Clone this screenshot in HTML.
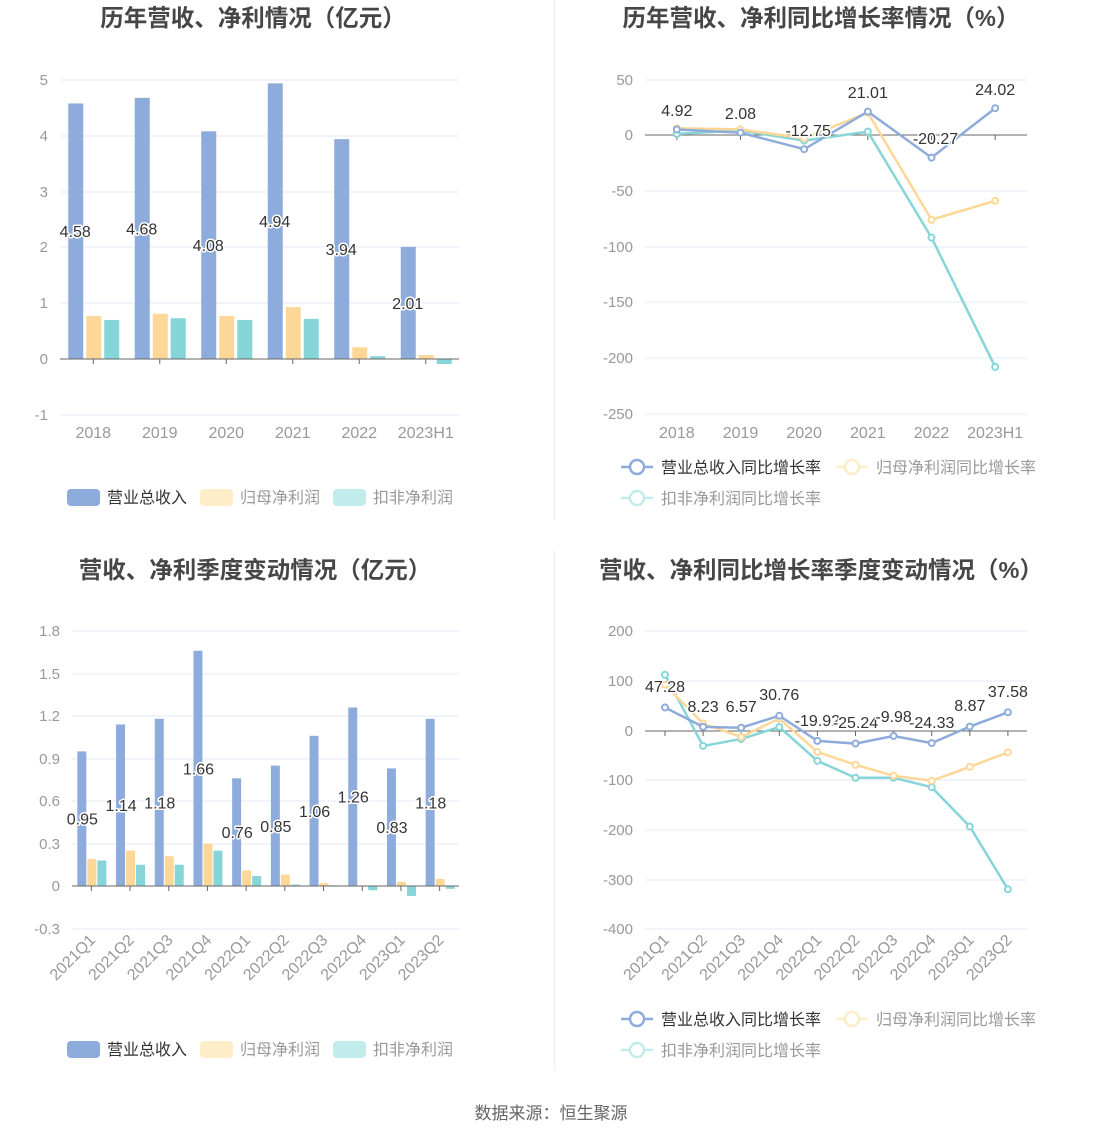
<!DOCTYPE html>
<html><head><meta charset="utf-8">
<style>
html,body{margin:0;padding:0;background:#fff;width:1102px;height:1140px;overflow:hidden}
svg{display:block;font-family:"Liberation Sans","Noto Sans CJK SC",sans-serif}
</style></head>
<body>
<svg id="s" width="1102" height="1140" xmlns="http://www.w3.org/2000/svg"></svg>
<script>
var o='';
var B='#8eacdb',Y='#fdd797',C='#86d5d8',YL='#ffecc8',CL='#c2ecec';
function t(x,y,s,a,c,sz,extra){o+='<text x="'+x+'" y="'+y+'" text-anchor="'+(a||'middle')+'" fill="'+(c||'#999')+'" font-size="'+(sz||15)+'" '+(extra||'')+'>'+s+'</text>';}
function lbl(x,y,s,sz){o+='<text x="'+x+'" y="'+y+'" text-anchor="middle" font-size="'+(sz||15)+'" fill="#333" stroke="#fff" stroke-width="3" paint-order="stroke" stroke-linejoin="round">'+s+'</text>';}
function grid(x0,x1,ticks){ticks.forEach(function(k){o+='<line x1="'+x0+'" x2="'+x1+'" y1="'+k[0]+'" y2="'+k[0]+'" stroke="#e3e8f5" stroke-width="1"/>';t(x0-12,k[0]+5,k[1],'end');});}
o+='<line x1="554.5" x2="554.5" y1="0" y2="520" stroke="#eee"/><line x1="554.5" x2="554.5" y1="550" y2="1070" stroke="#eee"/>';
t(253,26,'历年营收、净利情况（亿元）','middle','#464646',23.5,'font-weight="bold"');
t(821,26,'历年营收、净利同比增长率情况（%）','middle','#464646',23.5,'font-weight="bold"');
t(255,578,'营收、净利季度变动情况（亿元）','middle','#464646',23.5,'font-weight="bold"');
t(821,578,'营收、净利同比增长率季度变动情况（%）','middle','#464646',23.5,'font-weight="bold"');
t(551,1119,'数据来源：恒生聚源','middle','#666',17);

(function(){var y0=359,u=55.8,x0=60,x1=459;
grid(x0,x1,[[80,'5'],[136,'4'],[192,'3'],[247,'2'],[303,'1'],[359,'0'],[415,'-1']]);
var cats=['2018','2019','2020','2021','2022','2023H1'],r=[4.58,4.68,4.08,4.94,3.94,2.01],n=[0.77,0.81,0.77,0.93,0.21,0.07],d=[0.70,0.73,0.70,0.72,0.05,-0.09];
var w=(x1-x0)/6;
for(var i=0;i<6;i++){var c=x0+w*(i+.5);
[[r,B,-25],[n,Y,-7],[d,C,11]].forEach(function(q){var v=q[0][i],h=v*u;o+='<rect x="'+(c+q[2])+'" y="'+(h>0?y0-h:y0)+'" width="15" height="'+Math.abs(h)+'" fill="'+q[1]+'"/>';});
o+='<line x1="'+c+'" x2="'+c+'" y1="'+y0+'" y2="'+(y0+5)+'" stroke="#666"/>';
t(c,438,cats[i],'middle','#999',16);}
o+='<line x1="'+x0+'" x2="'+x1+'" y1="'+y0+'" y2="'+y0+'" stroke="#666"/>';
for(i=0;i<6;i++){c=x0+w*(i+.5);lbl(c-18,y0-r[i]*u/2+6,r[i],16);}
})();
(function(){var y0=886,u=141.7,x0=72,x1=459;
grid(x0,x1,[[631,'1.8'],[674,'1.5'],[716,'1.2'],[759,'0.9'],[801,'0.6'],[844,'0.3'],[886,'0'],[929,'-0.3']]);
var cats=['2021Q1','2021Q2','2021Q3','2021Q4','2022Q1','2022Q2','2022Q3','2022Q4','2023Q1','2023Q2'];
var r=[0.95,1.14,1.18,1.66,0.76,0.85,1.06,1.26,0.83,1.18],n=[0.19,0.25,0.21,0.30,0.11,0.08,0.02,0.005,0.03,0.05],d=[0.18,0.15,0.15,0.25,0.07,0.01,0.005,-0.03,-0.07,-0.02];
var w=(x1-x0)/10;
for(var i=0;i<10;i++){var c=x0+w*(i+.5);
[[r,B,-14],[n,Y,-4],[d,C,6]].forEach(function(q){var v=q[0][i],h=v*u;o+='<rect x="'+(c+q[2])+'" y="'+(h>0?y0-h:y0)+'" width="9" height="'+Math.abs(h)+'" fill="'+q[1]+'"/>';});
o+='<line x1="'+c+'" x2="'+c+'" y1="'+y0+'" y2="'+(y0+5)+'" stroke="#666"/>';
t(c+5,941,cats[i],'end','#999',16,'transform="rotate(-45 '+(c+5)+' 941)"');}
o+='<line x1="'+x0+'" x2="'+x1+'" y1="'+y0+'" y2="'+y0+'" stroke="#666"/>';
for(i=0;i<10;i++){c=x0+w*(i+.5);lbl(c-9,y0-r[i]*u/2+6,r[i].toFixed(2),16);}
})();
function line(xs,vals,y0,u,col){var p=xs.map(function(x,i){return x+','+(y0-vals[i]*u)}).join(' ');
o+='<polyline points="'+p+'" fill="none" stroke="'+col+'" stroke-width="2.5"/>';
xs.forEach(function(x,i){o+='<circle cx="'+x+'" cy="'+(y0-vals[i]*u)+'" r="3" fill="#fff" stroke="'+col+'" stroke-width="2"/>';});}
(function(){var y0=135,u=1.115,x0=645,x1=1027;
grid(x0,x1,[[80,'50'],[135,'0'],[191,'-50'],[247,'-100'],[302,'-150'],[358,'-200'],[414,'-250']]);
var cats=['2018','2019','2020','2021','2022','2023H1'],w=(x1-x0)/6,xs=[];
for(var i=0;i<6;i++){var c=x0+w*(i+.5);xs.push(c);o+='<line x1="'+c+'" x2="'+c+'" y1="'+y0+'" y2="'+(y0+5)+'" stroke="#666"/>';t(c,438,cats[i],'middle','#999',16);}
o+='<line x1="'+x0+'" x2="'+x1+'" y1="'+y0+'" y2="'+y0+'" stroke="#666"/>';
var r=[4.92,2.08,-12.75,21.01,-20.27,24.02];
line(xs,[1,4,-5,3,-92,-208],y0,u,C);line(xs,[6,5,-3,20,-76,-59],y0,u,Y);line(xs,r,y0,u,B);
var ly=[116,119,136,98,144,95];
for(i=0;i<6;i++)lbl(xs[i]+(i==2||i==4?4:0),ly[i],r[i],16);
})();
(function(){var y0=731,u=0.4975,x0=645,x1=1027;
grid(x0,x1,[[631,'200'],[681,'100'],[731,'0'],[780,'-100'],[830,'-200'],[880,'-300'],[929,'-400']]);
var cats=['2021Q1','2021Q2','2021Q3','2021Q4','2022Q1','2022Q2','2022Q3','2022Q4','2023Q1','2023Q2'],xs=[];
for(var i=0;i<10;i++){var c=665+38.1*i;xs.push(c);o+='<line x1="'+c+'" x2="'+c+'" y1="'+y0+'" y2="'+(y0+5)+'" stroke="#666"/>';t(c+5,941,cats[i],'end','#999',16,'transform="rotate(-45 '+(c+5)+' 941)"');}
o+='<line x1="'+x0+'" x2="'+x1+'" y1="'+y0+'" y2="'+y0+'" stroke="#666"/>';
var r=[47.28,8.23,6.57,30.76,-19.92,-25.24,-9.98,-24.33,8.87,37.58];
line(xs,[113,-30,-16,8,-60,-94,-94,-113,-192,-318],y0,u,C);line(xs,[93,15,-12,25,-42,-68,-90,-100,-72,-43],y0,u,Y);line(xs,r,y0,u,B);
var ly=[692,712,712,700,726,728,722,728,711,697];
for(i=0;i<10;i++)lbl(xs[i],ly[i],r[i].toFixed(2),16);
})();
function barLeg(y){[[67,B,'营业总收入','#333'],[200,YL,'归母净利润','#999'],[333,CL,'扣非净利润','#999']].forEach(function(q){o+='<rect x="'+q[0]+'" y="'+(y-8)+'" width="33" height="17" rx="4" fill="'+q[1]+'"/>';t(q[0]+40,y+6,q[2],'start',q[3],16);});}
barLeg(497);barLeg(1049);
function lineLeg(y){[[621,y,B,'营业总收入同比增长率','#333'],[836,y,YL,'归母净利润同比增长率','#999'],[621,y+31,CL,'扣非净利润同比增长率','#999']].forEach(function(q){o+='<line x1="'+q[0]+'" x2="'+(q[0]+32)+'" y1="'+q[1]+'" y2="'+q[1]+'" stroke="'+q[2]+'" stroke-width="2.5"/><circle cx="'+(q[0]+16)+'" cy="'+q[1]+'" r="7" fill="#fff" stroke="'+q[2]+'" stroke-width="2.5"/>';t(q[0]+40,q[1]+6,q[3],'start',q[4],16);});}
lineLeg(467);lineLeg(1019);
document.getElementById('s').innerHTML=o;
</script>
</body></html>
